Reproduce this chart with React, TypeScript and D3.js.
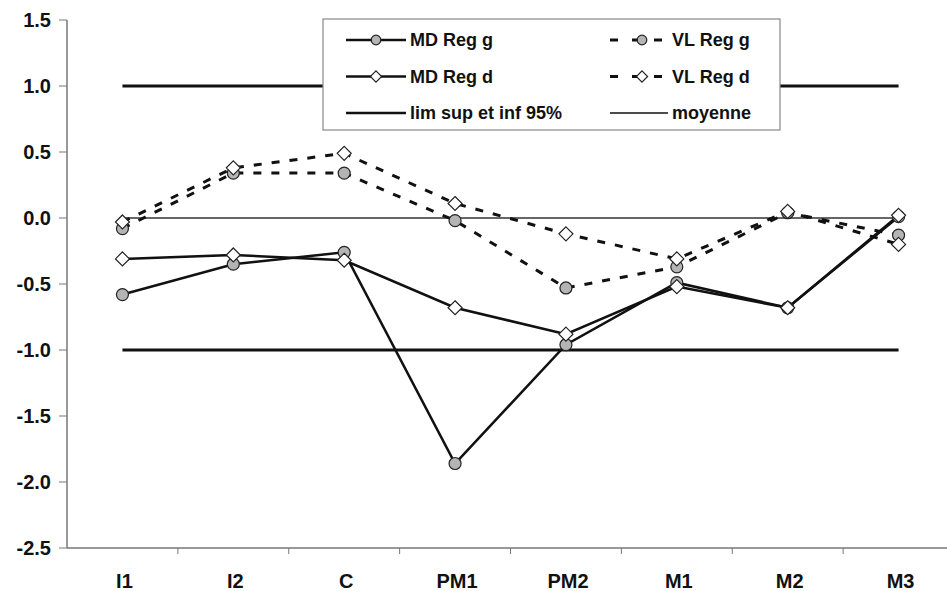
import { useEffect, useRef } from "react";
import * as d3 from "d3";

const categories = ["I1", "I2", "C", "PM1", "PM2", "M1", "M2", "M3"];
const mdRegG = [-0.58, -0.35, -0.26, -1.86, -0.96, -0.49, -0.68, 0.01];
const mdRegD = [-0.31, -0.28, -0.32, -0.68, -0.88, -0.52, -0.68, 0.02];
const vlRegG = [-0.08, 0.34, 0.34, -0.02, -0.53, -0.37, 0.04, -0.13];
const vlRegD = [-0.03, 0.38, 0.49, 0.11, -0.12, -0.31, 0.05, -0.2];
const limits = [1.0, -1.0];
const moyenne = 0;
const yTicks = [1.5, 1.0, 0.5, 0.0, -0.5, -1.0, -1.5, -2.0, -2.5];

const W = 947;
const H = 591;
const FONT = "'Liberation Sans', Arial, sans-serif";

type Series = {
  label: string;
  values: number[];
  marker: "circle" | "diamond";
  dashed: boolean;
};

const series: Series[] = [
  { label: "VL Reg g", values: vlRegG, marker: "circle", dashed: true },
  { label: "VL Reg d", values: vlRegD, marker: "diamond", dashed: true },
  { label: "MD Reg g", values: mdRegG, marker: "circle", dashed: false },
  { label: "MD Reg d", values: mdRegD, marker: "diamond", dashed: false },
];

function drawMarker(
  g: d3.Selection<SVGGElement, unknown, null, undefined>,
  kind: "circle" | "diamond",
  x: number,
  y: number,
  size = 1,
) {
  if (kind === "circle") {
    g.append("circle")
      .attr("cx", x)
      .attr("cy", y)
      .attr("r", 6 * size)
      .attr("fill", "#b4b4b4")
      .attr("stroke", "#222")
      .attr("stroke-width", 1.2);
  } else {
    const s = 7 * size;
    g.append("path")
      .attr("d", `M${x},${y - s}L${x + s},${y}L${x},${y + s}L${x - s},${y}Z`)
      .attr("fill", "#fff")
      .attr("stroke", "#222")
      .attr("stroke-width", 1.2);
  }
}

export default function App() {
  const svgRef = useRef<SVGSVGElement>(null);

  useEffect(() => {
    if (!svgRef.current) return;
    const svg = d3.select(svgRef.current);
    svg.selectAll("*").remove();

    const x = d3.scaleBand<string>().domain(categories).range([67, 954]);
    const y = d3.scaleLinear().domain([-2.5, 1.5]).range([548, 20]);
    const cx = (c: string) => x(c)! + x.bandwidth() / 2;
    const x0 = cx(categories[0]);
    const x1 = cx(categories[categories.length - 1]);

    const g = svg.append("g");

    // axes
    g.append("line")
      .attr("x1", 67).attr("x2", 67)
      .attr("y1", y(1.5)).attr("y2", y(-2.5))
      .attr("stroke", "#777").attr("stroke-width", 1.5);
    g.append("line")
      .attr("x1", 67).attr("x2", W)
      .attr("y1", y(-2.5)).attr("y2", y(-2.5))
      .attr("stroke", "#777").attr("stroke-width", 1.5);

    yTicks.forEach((t) => {
      g.append("line")
        .attr("x1", 59).attr("x2", 67)
        .attr("y1", y(t)).attr("y2", y(t))
        .attr("stroke", "#777");
      g.append("text")
        .attr("x", 51)
        .attr("y", y(t))
        .attr("dy", "0.36em")
        .attr("text-anchor", "end")
        .attr("font-family", FONT)
        .attr("font-weight", "bold")
        .attr("font-size", 20)
        .attr("fill", "#111")
        .text(t.toFixed(1));
    });

    categories.forEach((c, i) => {
      if (i > 0) {
        const tx = x(c)!;
        g.append("line")
          .attr("x1", tx).attr("x2", tx)
          .attr("y1", y(-2.5)).attr("y2", y(-2.5) + 6)
          .attr("stroke", "#777");
      }
      g.append("text")
        .attr("x", cx(c) + 2)
        .attr("y", 588)
        .attr("text-anchor", "middle")
        .attr("font-family", FONT)
        .attr("font-weight", "bold")
        .attr("font-size", 20)
        .attr("fill", "#111")
        .text(c);
    });

    // reference lines
    limits.forEach((v) => {
      g.append("line")
        .attr("x1", x0).attr("x2", x1)
        .attr("y1", y(v)).attr("y2", y(v))
        .attr("stroke", "#111").attr("stroke-width", 3);
    });
    g.append("line")
      .attr("x1", x0).attr("x2", x1)
      .attr("y1", y(moyenne)).attr("y2", y(moyenne))
      .attr("stroke", "#333").attr("stroke-width", 1.5);

    const line = d3
      .line<number>()
      .x((_, i) => cx(categories[i]))
      .y((d) => y(d));

    series.forEach((s) => {
      g.append("path")
        .attr("d", line(s.values))
        .attr("fill", "none")
        .attr("stroke", "#111")
        .attr("stroke-width", s.dashed ? 3 : 2.5)
        .attr("stroke-dasharray", s.dashed ? "8,10" : null);
    });
    series.forEach((s) => {
      s.values.forEach((v, i) => drawMarker(g, s.marker, cx(categories[i]), y(v)));
    });

    // legend
    const lg = g.append("g");
    lg.append("rect")
      .attr("x", 323).attr("y", 19)
      .attr("width", 457).attr("height", 111)
      .attr("fill", "#fff")
      .attr("stroke", "#888").attr("stroke-width", 1.2);

    const legendItems = [
      { label: "MD Reg g", marker: "circle", dashed: false, col: 0, row: 0, thin: false },
      { label: "VL Reg g", marker: "circle", dashed: true, col: 1, row: 0, thin: false },
      { label: "MD Reg d", marker: "diamond", dashed: false, col: 0, row: 1, thin: false },
      { label: "VL Reg d", marker: "diamond", dashed: true, col: 1, row: 1, thin: false },
      { label: "lim sup et inf 95%", marker: null, dashed: false, col: 0, row: 2, thin: false },
      { label: "moyenne", marker: null, dashed: false, col: 1, row: 2, thin: true },
    ] as const;

    legendItems.forEach((it) => {
      const lx = it.col === 0 ? 346 : 610;
      const ly = 40 + it.row * 36.5;
      const len = it.col === 0 ? 60 : 58;
      lg.append("line")
        .attr("x1", lx).attr("x2", lx + len)
        .attr("y1", ly).attr("y2", ly)
        .attr("stroke", "#111")
        .attr("stroke-width", it.thin ? 1.5 : it.dashed ? 3 : 2.5)
        .attr("stroke-dasharray", it.dashed ? "8,14" : null);
      if (it.marker) drawMarker(lg, it.marker, lx + len / 2 + (it.dashed ? 3 : 0), ly, 0.8);
      lg.append("text")
        .attr("x", lx + len + 4)
        .attr("y", ly)
        .attr("dy", "0.36em")
        .attr("font-family", FONT)
        .attr("font-weight", "bold")
        .attr("font-size", 18)
        .attr("fill", "#111")
        .text(it.label);
    });
  }, []);

  return (
    <div style={{ position: "absolute", left: 0, top: 0, background: "#fff" }}>
      <svg ref={svgRef} width={W} height={H} style={{ display: "block" }} />
    </div>
  );
}
